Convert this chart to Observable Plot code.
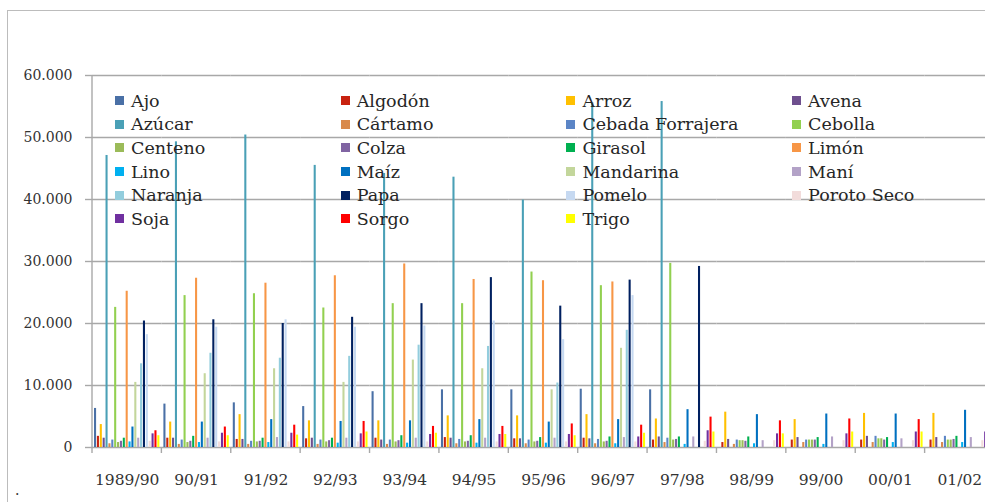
<!DOCTYPE html>
<html>
<head>
<meta charset="utf-8">
<script src="https://cdn.jsdelivr.net/npm/d3@7"></script>
<script src="https://cdn.jsdelivr.net/npm/@observablehq/plot@0.6"></script>
<style>
  html, body { margin: 0; padding: 0; background: #fff; overflow: hidden; width: 985px; height: 502px; }
  #wrap { position: relative; width: 985px; height: 502px; overflow: hidden; }
  #frame { position: absolute; left: 7px; top: 10px; width: 990px; height: 500px;
           border-left: 1.5px solid #bcbcbc; border-top: 1.5px solid #bcbcbc; box-sizing: border-box; }
  #chart { position: absolute; left: 0; top: 0; width: 1000px; height: 502px; }
  #chart svg { max-width: none !important; width: 1000px; height: 502px; }
  #legend { position: absolute; left: 115px; top: 89px; display: grid;
            grid-template-columns: repeat(4, 225.7px); grid-auto-rows: 23.6px; }
  .item { display: flex; align-items: center; font-family: "DejaVu Serif", serif; font-size: 17.5px; color: #262626; white-space: nowrap; }
  .sw { width: 9px; height: 9px; margin-right: 7px; flex: none; }
  #dot { position: absolute; left: 15px; top: 482px; font-family: "DejaVu Serif", serif; font-size: 14px; color: #333; }
</style>
</head>
<body>
<div id="wrap">
  <div id="frame"></div>
  <div id="chart"></div>
  <div id="legend"></div>
  <div id="dot">.</div>
</div>
<script>
const seasons = ["1989/90","90/91","91/92","92/93","93/94","94/95","95/96","96/97","97/98","98/99","99/00","00/01","01/02"];
const crops = ["Ajo","Algodón","Arroz","Avena","Azúcar","Cártamo","Cebada Forrajera","Cebolla","Centeno","Colza","Girasol","Limón","Lino","Maíz","Mandarina","Maní","Naranja","Papa","Pomelo","Poroto Seco","Soja","Sorgo","Trigo"];
const colors = ["#4a70a6","#c8220f","#ffc000","#6e4f8e","#4aa0b6","#d98a4c","#5b85c6","#92d050","#9bbb59","#8064a2","#00b050","#f79646","#00b0f0","#0070c0","#c3d69b","#b3a2c7","#93cddd","#002060","#c6d9f1","#f2dcdb","#7030a0","#ff0000","#ffff00"];
const yTicks = [0, 10000, 20000, 30000, 40000, 50000, 60000];

const ajo        = [6300, 7000, 7200, 6600, 9000, 9300, 9300, 9400, 9300, 0, 0, 0, 0];
const algodon    = [1800, 1500, 1300, 1400, 1500, 1600, 1400, 1500, 1200, 800, 1200, 1200, 1200];
const arroz      = [3700, 4100, 5300, 4300, 4300, 5100, 5100, 5300, 4600, 5700, 4500, 5500, 5500];
const avena      = [1500, 1500, 1300, 1500, 1200, 1500, 1400, 1400, 1700, 1300, 1600, 1800, 1600];
const azucar     = [47100, 49300, 50400, 45500, 44200, 43600, 39900, 55600, 55800, 0, 0, 0, 0];
const cartamo    = [600, 500, 500, 500, 500, 600, 600, 600, 800, 500, 800, 800, 800];
const cebada     = [1200, 1200, 1000, 1200, 1200, 1300, 1200, 1300, 1500, 1200, 1200, 1800, 1800];
const cebolla    = [22600, 24500, 24800, 22500, 23200, 23200, 28300, 26100, 29700, 1100, 1200, 1400, 1200];
const centeno    = [800, 800, 900, 900, 900, 900, 900, 900, 1200, 1100, 1200, 1400, 1200];
const colza      = [1000, 1000, 1000, 1100, 1100, 1000, 1000, 1000, 1300, 1000, 1200, 1200, 1300];
const girasol    = [1500, 1800, 1500, 1500, 1900, 1900, 1600, 1700, 1700, 1700, 1600, 1600, 1800];
const limon      = [25200, 27300, 26500, 27700, 29600, 27100, 26900, 26700, 0, 0, 0, 0, 0];
const lino       = [900, 800, 800, 700, 700, 700, 700, 600, 500, 600, 500, 800, 800];
const maiz       = [3300, 4100, 4500, 4200, 4300, 4500, 4100, 4500, 6100, 5300, 5400, 5400, 6000];
const mandarina  = [10500, 11900, 12700, 10500, 14100, 12700, 9300, 16000, 0, 0, 0, 0, 0];
const mani       = [1500, 1500, 1600, 1500, 1500, 1500, 1500, 1600, 1700, 1100, 1700, 1400, 1600];
const naranja    = [13500, 15200, 14400, 14700, 16500, 16300, 10400, 18900, 0, 0, 0, 0, 0];
const papa       = [20400, 20600, 20000, 21000, 23200, 27400, 22800, 27000, 29200, 0, 0, 0, 0];
const pomelo     = [18200, 19400, 20600, 19400, 19600, 20400, 17400, 24500, 0, 0, 0, 0, 0];
const poroto     = [1000, 900, 900, 900, 900, 900, 900, 900, 1000, 1100, 1100, 1100, 1100];
const soja       = [2200, 2300, 2300, 2200, 2100, 2100, 2100, 1700, 2700, 2200, 2200, 2500, 2500];
const sorgo      = [2700, 3300, 3600, 4200, 3400, 3400, 3800, 3600, 4900, 4300, 4600, 4500, 4500];
const trigo      = [1900, 1900, 2000, 2500, 2300, 2100, 1900, 2300, 2500, 2200, 2500, 2500, 2500];

const series = [ajo, algodon, arroz, avena, azucar, cartamo, cebada, cebolla, centeno, colza, girasol, limon, lino, maiz, mandarina, mani, naranja, papa, pomelo, poroto, soja, sorgo, trigo];

const data = crops.flatMap((crop, i) => series[i].map((value, j) => ({season: seasons[j], crop, value})));

const locale = d3.formatLocale({decimal: ",", thousands: ".", grouping: [3], currency: ["", ""]});
const fmt = locale.format(",");

const plot = Plot.plot({
  width: 1000,
  height: 502,
  marginLeft: 92,
  marginRight: 6,
  marginTop: 75,
  marginBottom: 55,
  style: {background: "transparent", overflow: "visible", maxWidth: "none"},
  fx: {domain: seasons, padding: 0, round: false, axis: null, label: null},
  x: {domain: crops, paddingInner: 0.28, paddingOuter: 0.7, round: false, axis: null},
  y: {domain: [0, 60000], axis: null},
  color: {domain: crops, range: colors},
  marks: [
    Plot.gridY(yTicks, {stroke: "#a8a8a8", strokeOpacity: 1, strokeWidth: 1.4}),
    Plot.barY(data, {fx: "season", x: "crop", y: "value", fill: "crop"}),
    Plot.axisY(yTicks, {tickSize: 7, tickPadding: 13, tickFormat: fmt, stroke: "#a8a8a8", strokeWidth: 1.4,
      fontSize: 14, fontFamily: "DejaVu Serif", fill: "#333", label: null}),
    Plot.axisFx({anchor: "bottom", tickSize: 0, tickPadding: 26, fontSize: 15.5, fontFamily: "DejaVu Serif", fill: "#333", label: null})
  ]
});
document.getElementById("chart").appendChild(plot);

// axis line and category boundary ticks from the plot's own scales
const fx = plot.scale("fx");
const y = plot.scale("y");
const svg = d3.select(plot);
const y0 = y.apply(0);
const yTop = y.apply(60000);
const x0 = fx.apply(seasons[0]);
svg.append("line").attr("x1", x0).attr("x2", x0).attr("y1", yTop).attr("y2", y0)
  .attr("stroke", "#a8a8a8").attr("stroke-width", 1.4);
const bounds = seasons.map(s => fx.apply(s)).concat([fx.apply(seasons[seasons.length - 1]) + fx.bandwidth]);
svg.append("g").selectAll("line").data(bounds).join("line")
  .attr("x1", d => d).attr("x2", d => d).attr("y1", y0).attr("y2", y0 + 6)
  .attr("stroke", "#a8a8a8").attr("stroke-width", 1.4);

// legend
const legend = d3.select("#legend");
crops.forEach((c, i) => {
  const it = legend.append("div").attr("class", "item");
  it.append("div").attr("class", "sw").style("background", colors[i]);
  it.append("span").text(c);
});
</script>
</body>
</html>
